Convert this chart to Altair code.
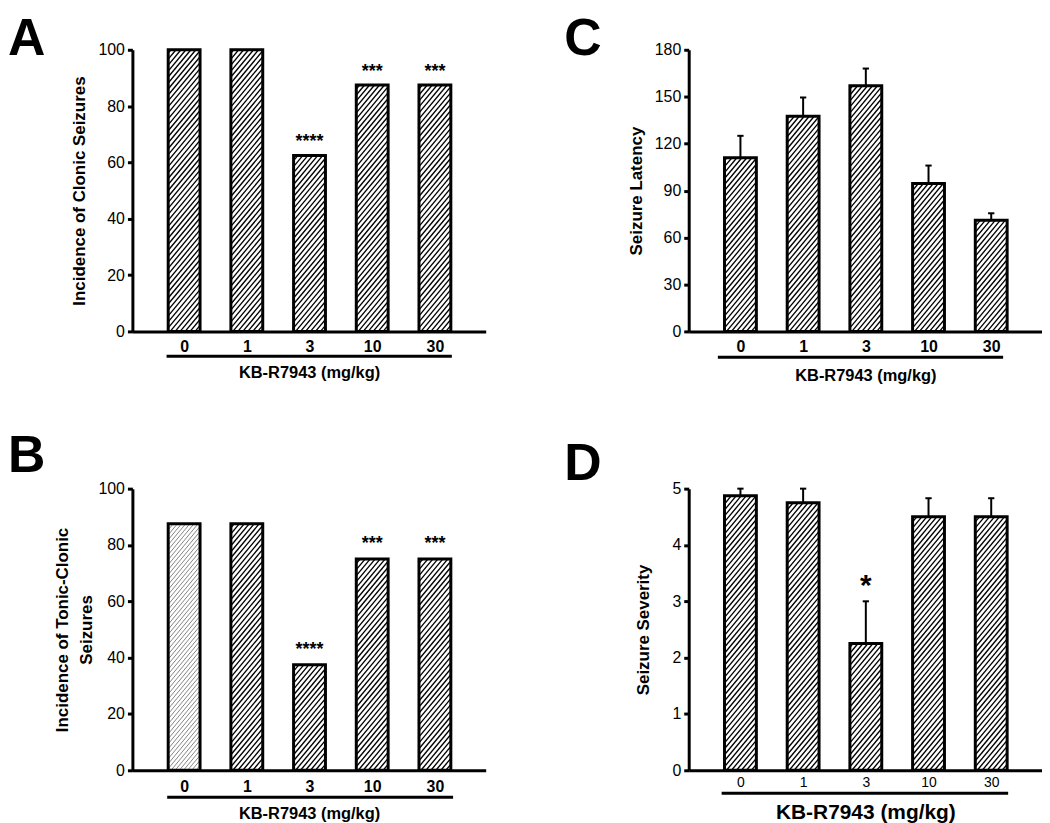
import json
import altair as alt
import pandas as pd

# ---------------- data ----------------
doses = ["0", "1", "3", "10", "30"]

clonic = [100, 100, 62.5, 87.5, 87.5]
clonic_stars = ["", "", "****", "***", "***"]

tonic = [87.5, 87.5, 37.5, 75, 75]
tonic_stars = ["", "", "****", "***", "***"]
tonic_light_bars = [0]

latency = [111, 137.5, 157, 94.5, 71]
latency_sem = [14, 12, 11, 11.5, 4.5]

severity = [4.875, 4.75, 2.25, 4.5, 4.5]
severity_sem = [0.125, 0.25, 0.75, 0.33, 0.33]
severity_stars = ["", "", "*", "", ""]

# ---------------- layout constants ----------------
FONT = "Liberation Sans"
W, H = 355, 283
XDOM = [-0.825, 4.81]
PXU = W / (XDOM[1] - XDOM[0])   # pixels per category unit
HALF = 0.254                    # half bar width in category units
BW = 2 * HALF * PXU             # bar width in px
SLOPE = 1.2                     # hatch slope (px up per px right)


def panel(letter, vals, ymax, ystep, ytitle, sems=None, stars=None, light=(),
          xl_size=16, xl_weight="bold", xt_size=16.5, lab_pad=15, ul=25, tb=47,
          letter_base=-3, yt_x=-53, star_size=18, star_dy=-9, ul_lo=0.28, ul_hi=0.27):
    n = len(doses)
    df = pd.DataFrame({
        "i": list(range(n)),
        "dose": doses,
        "v": vals,
        "e": sems if sems else [0.0] * n,
        "s": stars if stars else [""] * n,
    })
    df["hc"] = ["#777777" if k in light else "black" for k in range(n)]
    df["hw"] = [0.9 if k in light else 1.35 for k in range(n)]
    df["hg"] = [5.0 if k in light else 6.0 for k in range(n)]

    ppy = H / ymax
    xscale = alt.Scale(domain=XDOM, nice=False, zero=False)
    yscale = alt.Scale(domain=[0, ymax], nice=False, zero=True)

    xaxis = alt.Axis(
        values=list(range(n)),
        labelExpr=f"{json.dumps(doses)}[datum.value]",
        title="KB-R7943 (mg/kg)",
        grid=False, ticks=False, tickSize=0,
        domainColor="black", domainWidth=3,
        labelFont=FONT, labelFontSize=xl_size, labelFontWeight=xl_weight,
        labelColor="black", labelPadding=lab_pad, labelBaseline="middle",
        labelFlush=False, labelOverlap=False,
        titleFont=FONT, titleFontSize=xt_size, titleFontWeight="bold",
        titleColor="black", titleBaseline="alphabetic", titleY=tb,
    )
    yaxis = alt.Axis(
        values=list(range(0, ymax + 1, ystep)),
        title=ytitle, grid=False,
        domainColor="black", domainWidth=3,
        tickColor="black", tickWidth=3, tickSize=5,
        labelFont=FONT, labelFontSize=16, labelColor="black", labelPadding=3,
        labelFlush=False,
        titleFont=FONT, titleFontSize=17, titleFontWeight="bold", titleColor="black",
        titleAngle=270, titleAlign="center", titleBaseline="middle",
        titleX=yt_x, titleY=H / 2, titleLineHeight=24,
    )

    def X(field):
        return alt.X(field, scale=xscale, axis=xaxis)

    def Y(field):
        return alt.Y(field, scale=yscale, axis=yaxis)

    base = alt.Chart(df)

    hatch = (
        base.transform_calculate(k="sequence(0, 90)")
        .transform_flatten(["k"])
        .transform_calculate(bh=f"datum.v * {ppy}")
        .transform_calculate(c=f"datum.k * datum.hg - {SLOPE * BW}")
        .transform_calculate(x0p=f"max(0, -datum.c / {SLOPE})")
        .transform_calculate(x1p=f"min({BW}, (datum.bh - datum.c) / {SLOPE})")
        .transform_filter("datum.x1p > datum.x0p")
        .transform_calculate(xa=f"datum.i - {HALF} + datum.x0p / {PXU}")
        .transform_calculate(xb=f"datum.i - {HALF} + datum.x1p / {PXU}")
        .transform_calculate(ya=f"({SLOPE} * datum.x0p + datum.c) / {ppy}")
        .transform_calculate(yb=f"({SLOPE} * datum.x1p + datum.c) / {ppy}")
        .mark_rule(strokeCap="butt")
        .encode(
            x=X("xa:Q"), x2="xb:Q",
            y=Y("ya:Q"), y2="yb:Q",
            color=alt.Color("hc:N", scale=None),
            strokeWidth=alt.StrokeWidth("hw:Q", scale=None),
        )
    )

    outline = (
        base.transform_calculate(xl=f"datum.i - {HALF}", xr=f"datum.i + {HALF}")
        .mark_rect(fillOpacity=0, stroke="black", strokeWidth=3)
        .encode(x=X("xl:Q"), x2="xr:Q", y=Y("v:Q"), y2=alt.datum(0))
    )

    layers = [hatch, outline]

    if sems:
        err = (
            base.transform_calculate(top="datum.v + datum.e")
            .mark_rule(color="black", strokeWidth=2)
            .encode(x=X("i:Q"), y=Y("v:Q"), y2="top:Q")
        )
        cap = (
            base.transform_calculate(top="datum.v + datum.e",
                                     cl="datum.i - 0.05", cr="datum.i + 0.05")
            .mark_rule(color="black", strokeWidth=2)
            .encode(x=X("cl:Q"), x2="cr:Q", y=Y("top:Q"))
        )
        layers += [err, cap]

    if stars:
        st = (
            base.transform_filter("datum.s != ''")
            .transform_calculate(ys="datum.v + datum.e")
            .mark_text(font=FONT, fontSize=star_size, fontWeight="bold",
                       baseline="alphabetic", align="center", dy=star_dy, color="black")
            .encode(x=X("i:Q"), y=Y("ys:Q"), text="s:N")
        )
        layers.append(st)

    underline = (
        base.transform_aggregate(lo="min(i)", hi="max(i)")
        .transform_calculate(ul=f"datum.lo - {ul_lo}", ur=f"datum.hi + {ul_hi}")
        .mark_rule(color="black", strokeWidth=3)
        .encode(x=X("ul:Q"), x2="ur:Q", y=alt.value(H + ul))
    )
    layers.append(underline)

    lab = (
        alt.Chart(pd.DataFrame({"t": [letter]}))
        .mark_text(font=FONT, fontSize=52, fontWeight="bold", align="left",
                   baseline="alphabetic", color="black")
        .encode(text="t:N", x=alt.value(-125), y=alt.value(letter_base))
    )
    layers.append(lab)

    return alt.layer(*layers).properties(width=W, height=H)


pA = panel("A", clonic, 100, 20, "Incidence of Clonic Seizures",
           stars=clonic_stars, lab_pad=15, ul=25, tb=46, letter_base=5,
           yt_x=-53, star_dy=-8.5)
pC = panel("C", latency, 180, 30, "Seizure Latency", sems=latency_sem,
           lab_pad=15, ul=26, tb=49, letter_base=5, yt_x=-52, ul_lo=0.36, ul_hi=0.19)
pB = panel("B", tonic, 100, 20, ["Incidence of Tonic-Clonic", "Seizures"],
           stars=tonic_stars, light=tonic_light_bars, lab_pad=16, ul=27, tb=48,
           letter_base=-17, yt_x=-70, star_dy=-10, ul_lo=0.27, ul_hi=0.29)
pD = panel("D", severity, 5, 1, "Seizure Severity", sems=severity_sem,
           stars=severity_stars, xl_size=14, xl_weight="normal", xt_size=21,
           lab_pad=12, ul=23, tb=48, letter_base=-9, yt_x=-45,
           star_size=30, star_dy=-6.5, ul_lo=0.30, ul_hi=0.27)

chart = (
    alt.concat(pA, pC, pB, pD, columns=2, spacing={"row": 158, "column": 204},
               bounds="flush")
    .properties(padding={"left": 0, "top": 3, "right": 0, "bottom": 0})
    .configure_view(stroke=None)
)

chart.save("out.html", embed_options={"renderer": "svg", "actions": False})
